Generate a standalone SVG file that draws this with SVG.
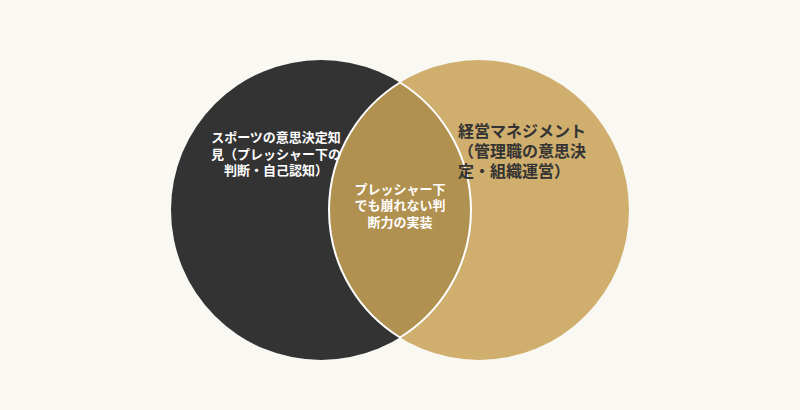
<svg xmlns="http://www.w3.org/2000/svg" width="800" height="410" viewBox="0 0 800 410">
<style>
.lbl{font-family:"Noto Sans CJK JP","Noto Sans",sans-serif;font-weight:700;}
.w{fill:#ffffff;font-size:13px;text-anchor:middle;}
.d{fill:#333333;font-size:16px;}
</style>
<rect x="0" y="0" width="800" height="410" fill="#f9f8f3"/>
<g id="set-sports">
<circle cx="321" cy="210" r="150" fill="#333333"/>
</g>
<g id="set-management">
<circle cx="479" cy="210" r="150" fill="#cfae6e"/>
</g>
<g id="overlap">
<path d="M400,82.5 A150,150 0 0,1 400,337.5 A150,150 0 0,1 400,82.5 Z" fill="#b1914f" stroke="#ffffff" stroke-width="2"/>
</g>
<g id="connectors"></g>
<g id="label-sports" class="lbl">
<text class="w" x="276" y="142">スポーツの意思決定知</text>
<text class="w" x="276" y="158.5">見（プレッシャー下の</text>
<text class="w" x="276" y="175">判断・自己認知）</text>
</g>
<g id="label-management" class="lbl">
<text class="d" x="458" y="137">経営マネジメント</text>
<text class="d" x="458" y="157">（管理職の意思決</text>
<text class="d" x="458" y="177">定・組織運営）</text>
</g>
<g id="label-overlap" class="lbl">
<text class="w" x="400" y="193.5">プレッシャー下</text>
<text class="w" x="400" y="210">でも崩れない判</text>
<text class="w" x="400" y="226.5">断力の実装</text>
</g>
</svg>
